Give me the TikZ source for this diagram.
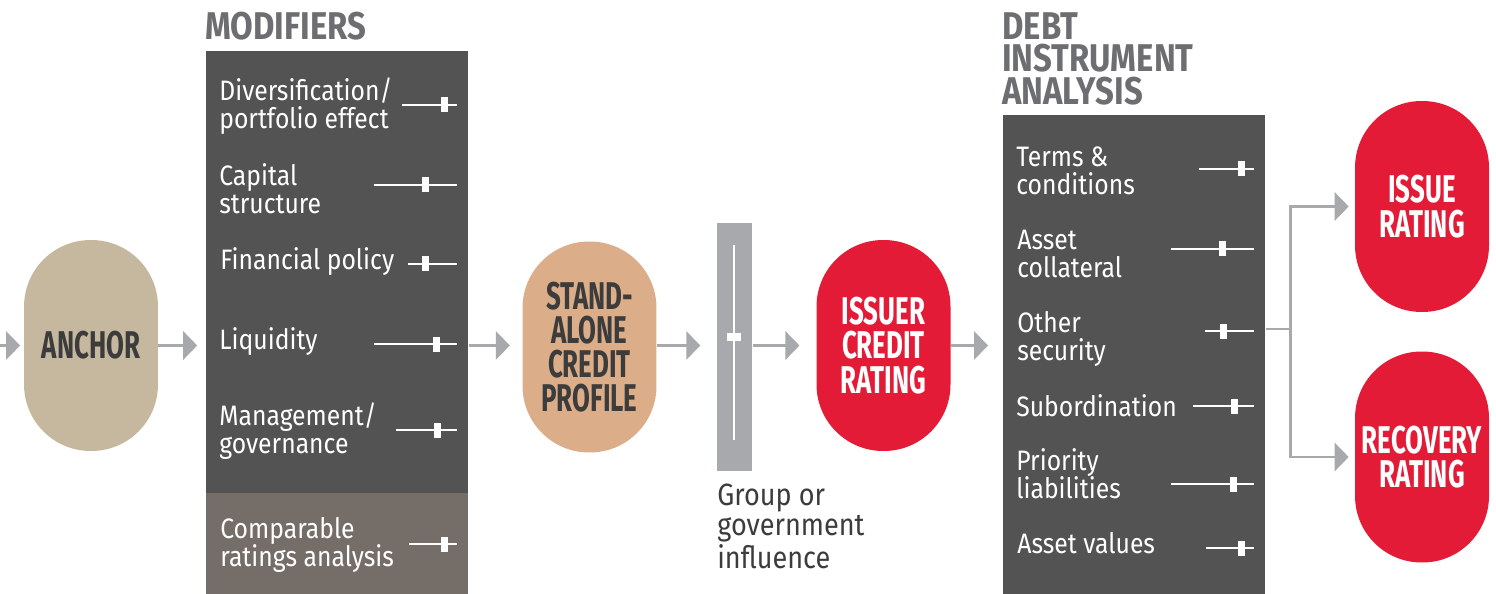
\documentclass[tikz,border=0pt]{standalone}
\usepackage{fontspec}
\setmainfont{Fira Sans}
\newfontfamily\itemfont[FakeStretch=0.88]{Fira Sans}
\newfontfamily\headfont[FakeStretch=0.85]{Fira Sans}
\newfontfamily\capfont[FakeStretch=0.67]{Fira Sans}
\usetikzlibrary{arrows.meta}

\definecolor{boxgray}{HTML}{535353}
\definecolor{compgray}{HTML}{756D67}
\definecolor{titlegray}{HTML}{6D6E71}
\definecolor{arrowgray}{HTML}{A7A9AC}
\definecolor{anchortan}{HTML}{C6B89E}
\definecolor{sacptan}{HTML}{DBAD88}
\definecolor{ratingred}{HTML}{E31B37}
\definecolor{inkdark}{HTML}{3C3C3C}

\tikzset{
  capsule/.style={rectangle, rounded corners=1.33cm, minimum width=2.68cm, minimum height=4.22cm,
                  inner sep=0pt, align=center, font=\capfont\fontsize{22}{19.5}\selectfont\bfseries},
  panel/.style={rectangle, anchor=north west, inner sep=0pt, minimum width=5.24cm},
  heading/.style={anchor=north west, inner sep=0pt, align=left, text=titlegray,
                  font=\headfont\fontsize{22}{18.5}\selectfont\bfseries},
  itemlabel/.style={anchor=west, inner sep=0pt, align=left, text=white,
                    font=\itemfont\fontsize{16}{16}\selectfont},
  sliderline/.style={white, line width=1.4pt},
  conn/.style={arrowgray, line width=1.7pt, -{Triangle[width=16pt,length=8pt]}},
  link/.style={arrowgray, line width=1.7pt}
}

\begin{document}
\begin{tikzpicture}[x=0.02cm, y=-0.02cm]
\useasboundingbox (0,0) rectangle (1496,594);

% headings
\node[heading] (modtitle) at (205,12) {MODIFIERS};
\node[heading] (debttitle) at (1002,12) {DEBT\\INSTRUMENT\\ANALYSIS};

% panels
\node[panel, fill=boxgray, minimum height=10.86cm] (mods) at (206,51) {};
\node[panel, fill=compgray, minimum height=2.02cm] (comp) at (206,493) {};
\node[panel, fill=boxgray, minimum height=9.58cm] (debt) at (1003,115) {};

% capsules
\node[capsule, fill=anchortan, text=inkdark] (anchor) at (91,345.5) {ANCHOR};
\node[capsule, fill=sacptan, text=inkdark] (sacp) at (589.5,347) {STAND-\\ALONE\\CREDIT\\PROFILE};
\node[capsule, fill=ratingred, text=white] (icr) at (883.5,345.5) {ISSUER\\CREDIT\\RATING};
\node[capsule, fill=ratingred, text=white] (issue) at (1422,206.5) {ISSUE\\RATING};
\node[capsule, fill=ratingred, text=white] (recovery) at (1422,457) {RECOVERY\\RATING};

% group or government slider
\node[rectangle, fill=arrowgray, anchor=north west, inner sep=0pt, minimum width=0.7cm, minimum height=4.96cm] (bar) at (717,223) {};
\draw[white, line width=1.2pt] (734,245) -- (734,440);
\fill[white] (727,333) rectangle (741,341);
\node[anchor=north west, inner sep=0pt, align=left, text=inkdark,
      font=\itemfont\fontsize{17.5}{17}\selectfont] (group) at (717,484) {Group or\\government\\influence};

% modifier items
\node[itemlabel] (div) at (219,106) {Diversification/\\portfolio effect};
\draw[sliderline] (402,105) -- (457,105);
\fill[white] (440.5,97.5) rectangle (447.5,112.5);
\node[itemlabel] (capital) at (219,189) {Capital\\structure};
\draw[sliderline] (374,185) -- (457,185);
\fill[white] (421.5,177.5) rectangle (428.5,192.5);
\node[itemlabel] (fin) at (220,262) {Financial policy};
\draw[sliderline] (408,264) -- (457,264);
\fill[white] (422,256.5) rectangle (429,271.5);
\node[itemlabel] (liq) at (219,342) {Liquidity};
\draw[sliderline] (374,344) -- (457,344);
\fill[white] (432.5,336.5) rectangle (439.5,351.5);
\node[itemlabel] (mgmt) at (219,431) {Management/\\governance};
\draw[sliderline] (396,430) -- (457,430);
\fill[white] (433.5,422.5) rectangle (440.5,437.5);
\node[itemlabel] (cmp) at (220,545) {Comparable\\ratings analysis};
\draw[sliderline] (409,544) -- (457,544);
\fill[white] (440.5,536.5) rectangle (447.5,551.5);

% debt instrument items
\node[itemlabel] (terms) at (1016,171) {Terms \&\\conditions};
\draw[sliderline] (1199,169) -- (1254,169);
\fill[white] (1237.5,161.5) rectangle (1244.5,176.5);
\node[itemlabel] (coll) at (1017,254) {Asset\\collateral};
\draw[sliderline] (1171,249) -- (1254,249);
\fill[white] (1218.5,241.5) rectangle (1225.5,256.5);
\node[itemlabel] (other) at (1017,339) {Other\\security};
\draw[sliderline] (1205,331) -- (1254,331);
\fill[white] (1219.5,323.5) rectangle (1226.5,338.5);
\node[itemlabel] (sub) at (1016,406) {Subordination};
\draw[sliderline] (1193,406) -- (1254,406);
\fill[white] (1230.5,398.5) rectangle (1237.5,413.5);
\node[itemlabel] (prio) at (1016,474) {Priority\\liabilities};
\draw[sliderline] (1171,484) -- (1254,484);
\fill[white] (1229.5,476.5) rectangle (1236.5,491.5);
\node[itemlabel] (vals) at (1017,543) {Asset values};
\draw[sliderline] (1206,548) -- (1254,548);
\fill[white] (1237.5,540.5) rectangle (1244.5,555.5);

% connectors
\coordinate (in) at (0,345.5);
\coordinate (split) at (1290,329);
\draw[conn, shorten >=2pt] (in) -- (anchor);
\draw[conn, shorten >=5pt] (anchor) -- (anchor -| mods.west);
\draw[conn, shorten >=7pt] (mods.east |- anchor) -- (anchor -| sacp.west);
\draw[conn, shorten >=9.5pt] (anchor -| sacp.east) -- (anchor -| bar.west);
\draw[conn, shorten >=9.5pt] (bar.east |- icr) -- (icr);
\draw[conn, shorten >=8.5pt] (icr) -- (icr -| debt.west);
\draw[link] (debt.east |- split) -- (split);
\draw[conn, shorten >=3.4pt] (split) |- (issue);
\draw[conn, shorten >=3.4pt] (split) |- (recovery);
\end{tikzpicture}
\end{document}
